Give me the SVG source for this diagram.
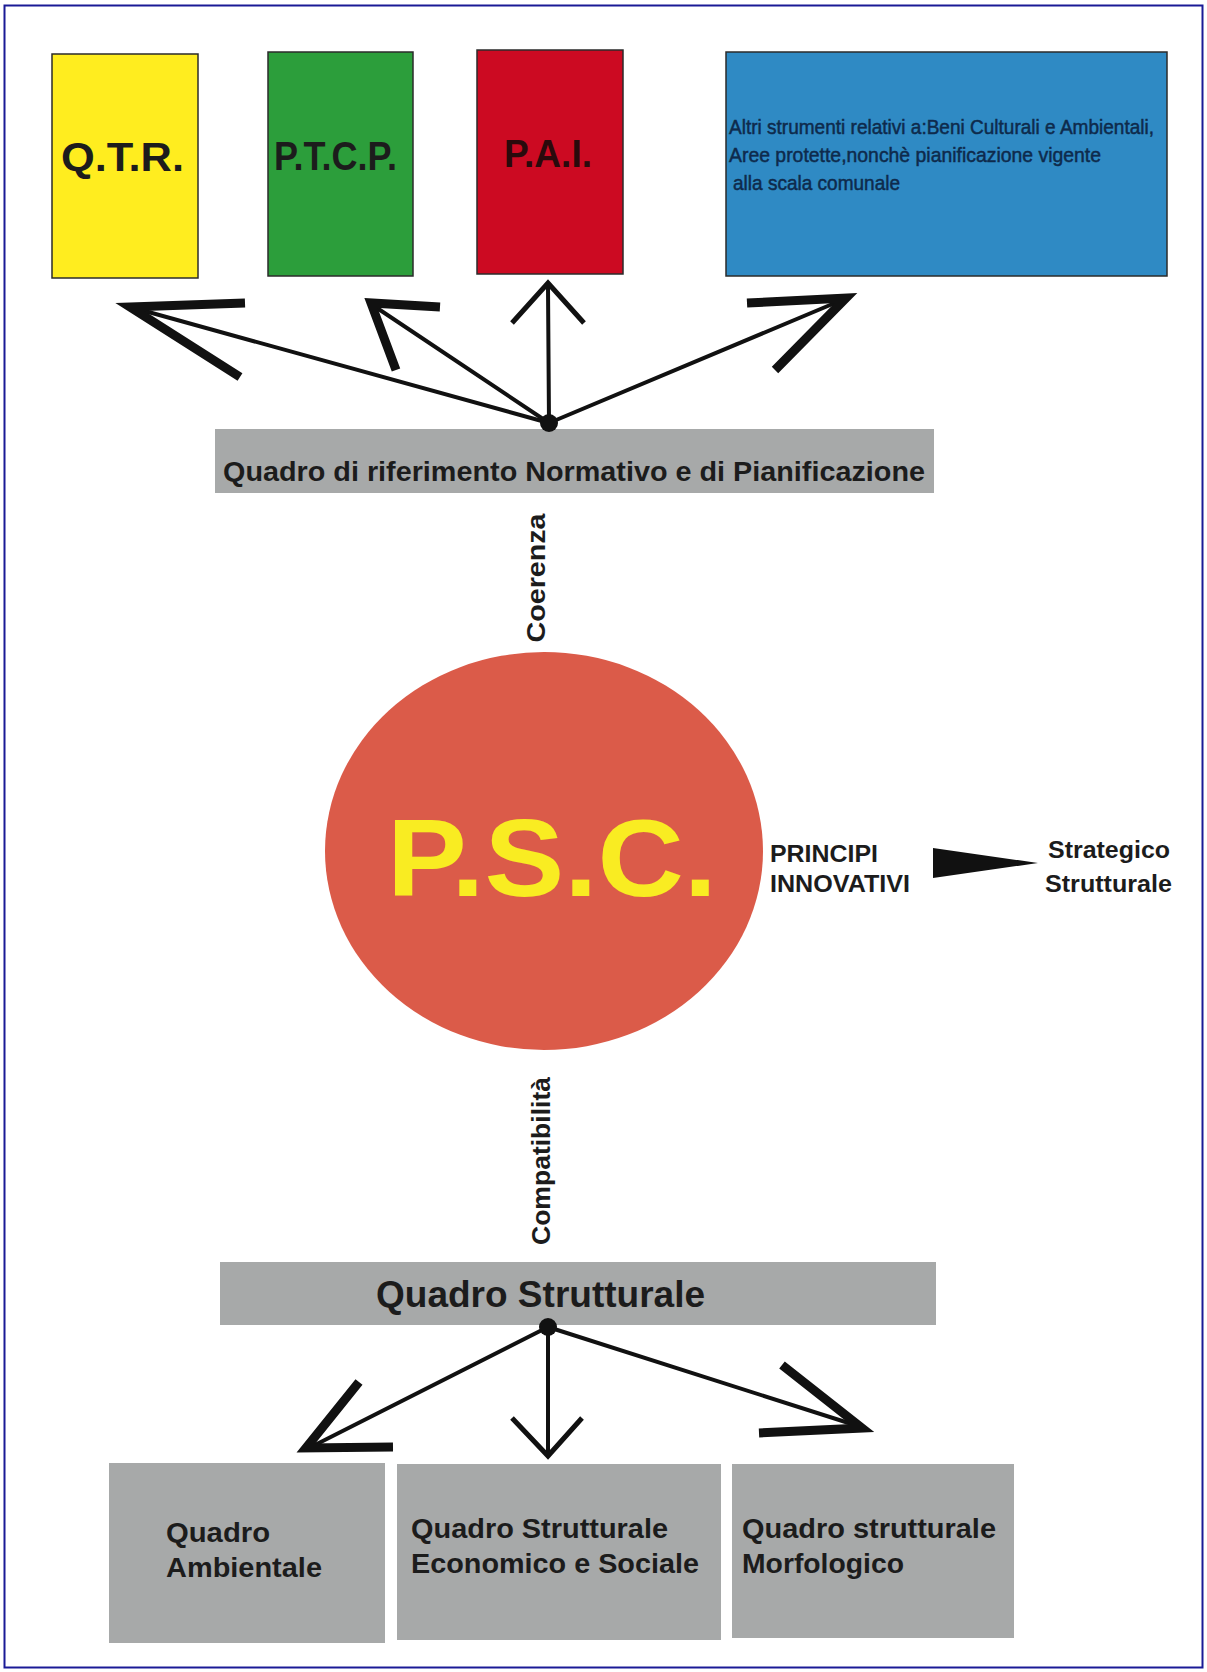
<svg xmlns="http://www.w3.org/2000/svg" width="1207" height="1672" viewBox="0 0 1207 1672">
  <style>
    .t { font-family: "Liberation Sans", Arial, sans-serif; fill: #1c1c1c; }
    .n { font-family: "Liberation Sans", Arial, sans-serif; fill: #1c1c1c; }
    .b { font-weight: bold; }
    .nv { fill: #0e2a4c; stroke: #0e2a4c; stroke-width: 0.5; }
    .box { stroke: #2b2b2b; stroke-width: 1.5; }
    .grey { fill: #a7a9a9; }
    .shaft { stroke: #111; stroke-width: 4; fill: none; stroke-linecap: round; }
    .head { stroke: #111; stroke-width: 9; fill: none; stroke-linejoin: miter; stroke-miterlimit: 10; }
    .headthin { stroke: #111; stroke-width: 5; fill: none; stroke-linejoin: miter; stroke-miterlimit: 10; }
  </style>
  <rect x="0" y="0" width="1207" height="1672" fill="#ffffff"/>
  <rect x="4.5" y="5.5" width="1198" height="1662" fill="none" stroke="#1a1a96" stroke-width="2"/>

  <g id="qtr">
    <rect class="box" x="52" y="54" width="146" height="224" fill="#ffed1f"/>
    <text class="t b" x="61" y="171" font-size="40" textLength="123" lengthAdjust="spacingAndGlyphs">Q.T.R.</text>
  </g>
  <g id="ptcp">
    <rect class="box" x="268" y="52" width="145" height="224" fill="#2c9e3b"/>
    <text class="n b" x="274" y="170" font-size="40" textLength="123" lengthAdjust="spacingAndGlyphs">P.T.C.P.</text>
  </g>
  <g id="pai">
    <rect class="box" x="477" y="50" width="146" height="224" fill="#cc0a22"/>
    <text class="n b" x="504" y="167" font-size="38" textLength="88" lengthAdjust="spacingAndGlyphs" style="fill:#2a0a0c">P.A.I.</text>
  </g>
  <g id="altri">
    <rect class="box" x="726" y="52" width="441" height="224" fill="#2f8ac4"/>
    <text class="n nv" x="729" y="134" font-size="21" textLength="425" lengthAdjust="spacingAndGlyphs">Altri strumenti relativi a:Beni Culturali e Ambientali,</text>
    <text class="n nv" x="729" y="162" font-size="21" textLength="372" lengthAdjust="spacingAndGlyphs">Aree protette,nonchè pianificazione vigente</text>
    <text class="n nv" x="733" y="190" font-size="21" textLength="167" lengthAdjust="spacingAndGlyphs">alla scala comunale</text>
  </g>

  <g id="quadro-riferimento">
    <rect class="grey" x="215" y="429" width="719" height="64"/>
    <text class="n b" x="223" y="481" font-size="28" textLength="702" lengthAdjust="spacingAndGlyphs">Quadro di riferimento Normativo e di Pianificazione</text>
  </g>

  <g id="psc">
    <ellipse cx="544" cy="851" rx="219" ry="199" fill="#db5b49"/>
    <text class="t b" x="387" y="896" font-size="110" textLength="330" lengthAdjust="spacingAndGlyphs" style="fill:#f9ec22">P.S.C.</text>
  </g>

  <g id="principi">
    <text class="n b" x="770" y="862" font-size="23" textLength="108" lengthAdjust="spacingAndGlyphs">PRINCIPI</text>
    <text class="n b" x="770" y="892" font-size="23" textLength="140" lengthAdjust="spacingAndGlyphs">INNOVATIVI</text>
  </g>
  <g id="strategico">
    <text class="n b" x="1048" y="858" font-size="23" textLength="122" lengthAdjust="spacingAndGlyphs">Strategico</text>
    <text class="n b" x="1045" y="892" font-size="23" textLength="127" lengthAdjust="spacingAndGlyphs">Strutturale</text>
  </g>

  <g id="quadro-strutturale">
    <rect class="grey" x="220" y="1262" width="716" height="63"/>
    <text class="n b" x="376" y="1307" font-size="36" textLength="329" lengthAdjust="spacingAndGlyphs">Quadro Strutturale</text>
  </g>

  <g id="quadro-ambientale">
    <rect class="grey" x="109" y="1463" width="276" height="180"/>
    <text class="n b" x="166" y="1542" font-size="28" textLength="104" lengthAdjust="spacingAndGlyphs">Quadro</text>
    <text class="n b" x="166" y="1577" font-size="28" textLength="156" lengthAdjust="spacingAndGlyphs">Ambientale</text>
  </g>
  <g id="quadro-economico">
    <rect class="grey" x="397" y="1464" width="324" height="176"/>
    <text class="n b" x="411" y="1538" font-size="28" textLength="257" lengthAdjust="spacingAndGlyphs">Quadro Strutturale</text>
    <text class="n b" x="411" y="1573" font-size="28" textLength="288" lengthAdjust="spacingAndGlyphs">Economico e Sociale</text>
  </g>
  <g id="quadro-morfologico">
    <rect class="grey" x="732" y="1464" width="282" height="174"/>
    <text class="n b" x="742" y="1538" font-size="28" textLength="254" lengthAdjust="spacingAndGlyphs">Quadro strutturale</text>
    <text class="n b" x="742" y="1573" font-size="28" textLength="162" lengthAdjust="spacingAndGlyphs">Morfologico</text>
  </g>

  <g id="connectors">
    <line class="shaft" x1="549" y1="423" x2="134" y2="308"/>
    <polyline class="head" points="245,303 130,307 240,377"/>
    <line class="shaft" x1="549" y1="423" x2="374" y2="306"/>
    <polyline class="head" points="440,307 371,303 396,370"/>
    <line class="shaft" x1="549" y1="423" x2="548" y2="287"/>
    <polyline class="headthin" points="512,323 548,283 584,323"/>
    <line class="shaft" x1="549" y1="423" x2="842" y2="300"/>
    <polyline class="head" points="747,303 846,298 775,370"/>
    <circle cx="549" cy="423" r="9" fill="#111"/>

    <text class="t b" transform="translate(545,578) rotate(-90)" x="0" y="0" font-size="26" text-anchor="middle" textLength="129" lengthAdjust="spacingAndGlyphs">Coerenza</text>
    <text class="t b" transform="translate(550,1161) rotate(-90)" x="0" y="0" font-size="26" text-anchor="middle" textLength="168" lengthAdjust="spacingAndGlyphs">Compatibilità</text>

    <polygon points="933,848 933,878 1038,863" fill="#111"/>

    <line class="shaft" x1="548" y1="1327" x2="309" y2="1448"/>
    <polyline class="head" points="359,1382 306,1448 393,1447"/>
    <line class="shaft" x1="548" y1="1327" x2="548" y2="1452"/>
    <polyline class="headthin" points="512,1418 548,1456 582,1418"/>
    <line class="shaft" x1="548" y1="1327" x2="858" y2="1426"/>
    <polyline class="head" points="782,1365 862,1428 759,1433"/>
    <circle cx="548" cy="1327" r="9" fill="#111"/>
  </g>
</svg>
